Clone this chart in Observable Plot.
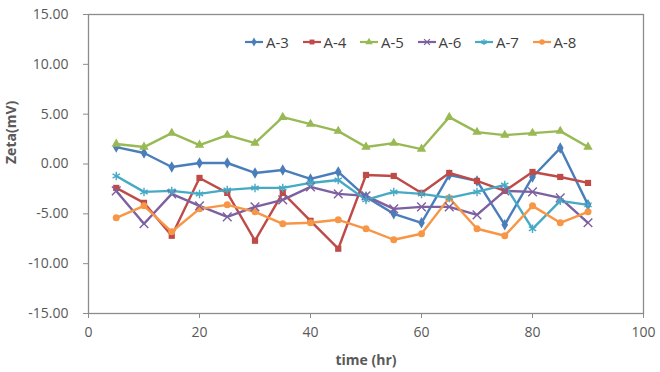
<!DOCTYPE html>
<html>
<head>
<meta charset="utf-8">
<script src="https://cdn.jsdelivr.net/npm/d3@7"></script>
<script src="https://cdn.jsdelivr.net/npm/@observablehq/plot@0.6"></script>
<style>
  body { margin: 0; background: #fff; }
  #chart { position: relative; width: 660px; height: 372px; font-family: "Open Sans", "Liberation Sans", sans-serif; }
  #legend { position: absolute; top: 32px; left: 244px; display: flex; gap: 0; font-size: 15px; color: #404040; }
  .item { display: flex; align-items: center; width: 57.5px; }
  .item svg { margin-right: 2px; }
</style>
</head>
<body>
<div id="chart"><div id="legend"></div></div>
<script>
// Sampling times (hours)
const hours = [5, 10, 15, 20, 25, 30, 35, 40, 45, 50, 55, 60, 65, 70, 75, 80, 85, 90];

// Zeta potential (mV) per sample
const a3 = [1.7, 1.1, -0.3, 0.1, 0.1, -0.9, -0.6, -1.5, -0.8, -3.3, -5.0, -5.9, -1.1, -1.7, -6.1, -1.3, 1.6, -4.1];
const a4 = [-2.4, -3.9, -7.2, -1.4, -2.9, -7.7, -2.9, -5.7, -8.5, -1.1, -1.2, -2.9, -0.9, -1.7, -2.7, -0.8, -1.3, -1.9];
const a5 = [2.0, 1.7, 3.1, 1.9, 2.9, 2.1, 4.7, 4.0, 3.3, 1.7, 2.1, 1.5, 4.7, 3.2, 2.9, 3.1, 3.3, 1.7];
const a6 = [-2.7, -6.0, -3.0, -4.2, -5.3, -4.3, -3.6, -2.3, -3.0, -3.2, -4.5, -4.3, -4.3, -5.1, -2.7, -2.8, -3.4, -5.9];
const a7 = [-1.2, -2.8, -2.7, -3.0, -2.6, -2.4, -2.4, -1.9, -1.6, -3.6, -2.8, -3.0, -3.4, -2.8, -2.1, -6.5, -3.7, -4.1];
const a8 = [-5.4, -4.2, -6.8, -4.5, -4.1, -4.8, -6.0, -5.9, -5.6, -6.5, -7.6, -7.0, -3.4, -6.5, -7.2, -4.2, -5.9, -4.8];

const seriesNames = ["A-3", "A-4", "A-5", "A-6", "A-7", "A-8"];
const seriesValues = [a3, a4, a5, a6, a7, a8];
const seriesColors = ["#4a7ebb", "#be4b48", "#98b954", "#7d60a0", "#46aac5", "#f79646"];
const seriesSymbols = ["diamond", "square", "triangle", "times", "asterisk", "circle"];
const filledSymbols = new Set(["diamond", "square", "triangle", "circle"]);

const xTicks = [0, 20, 40, 60, 80, 100];
const yTicks = [-15, -10, -5, 0, 5, 10, 15];

const rows = seriesNames.flatMap((name, i) =>
  hours.map((t, j) => ({series: name, time: t, zeta: seriesValues[i][j], filled: filledSymbols.has(seriesSymbols[i])}))
);

const textColor = "#595959";
const axisColor = "#8c8c8c";

const chart = Plot.plot({
  width: 660,
  height: 372,
  marginLeft: 88,
  marginRight: 17,
  marginTop: 14,
  marginBottom: 59,
  style: {fontFamily: '"Open Sans", "Liberation Sans", sans-serif', fontSize: "14px", color: textColor, background: "#fff"},
  x: {domain: [0, 100]},
  y: {domain: [-15, 15]},
  color: {domain: seriesNames, range: seriesColors},
  symbol: {domain: seriesNames, range: seriesSymbols},
  marks: [
    Plot.frame({stroke: axisColor, strokeWidth: 1.3}),
    Plot.axisY({ticks: yTicks, tickSize: 5, tickPadding: 15, tickFormat: d => d.toFixed(2), label: null, stroke: axisColor, fill: textColor}),
    Plot.axisX({ticks: xTicks, tickSize: 5, tickPadding: 9, tickFormat: d => String(d), label: null, stroke: axisColor, fill: textColor}),
    Plot.text(["Zeta(mV)"], {frameAnchor: "left", dx: -77, rotate: -90, text: d => d, fontWeight: "bold", fontSize: 14, fill: textColor}),
    Plot.text(["time (hr)"], {frameAnchor: "bottom", dy: 51, text: d => d, fontWeight: "bold", fontSize: 14, fill: textColor}),
    Plot.line(rows, {x: "time", y: "zeta", z: "series", stroke: "series", strokeWidth: 2.4}),
    Plot.dot(rows.filter(d => d.filled), {x: "time", y: "zeta", fill: "series", symbol: "series", r: 3.5}),
    Plot.dot(rows.filter(d => !d.filled), {x: "time", y: "zeta", stroke: "series", symbol: "series", r: 4, strokeWidth: 1.4})
  ]
});

const container = document.getElementById("chart");
container.insertBefore(chart, container.firstChild);

// Legend: line sample with marker, then series name
const legend = d3.select("#legend");
seriesNames.forEach((name, i) => {
  const item = legend.append("div").attr("class", "item");
  const svg = item.append("svg").attr("width", 20).attr("height", 14);
  svg.append("line").attr("x1", 1).attr("x2", 19).attr("y1", 7).attr("y2", 7)
    .attr("stroke", seriesColors[i]).attr("stroke-width", 2.2);
  const sym = d3.symbol(Plot.scale({symbol: {domain: seriesNames, range: seriesSymbols}}).apply(name), 24)();
  const p = svg.append("path").attr("d", sym).attr("transform", "translate(10,7)");
  if (filledSymbols.has(seriesSymbols[i])) p.attr("fill", seriesColors[i]);
  else p.attr("fill", "none").attr("stroke", seriesColors[i]).attr("stroke-width", 1.2);
  item.append("span").text(name);
});
</script>
</body>
</html>
